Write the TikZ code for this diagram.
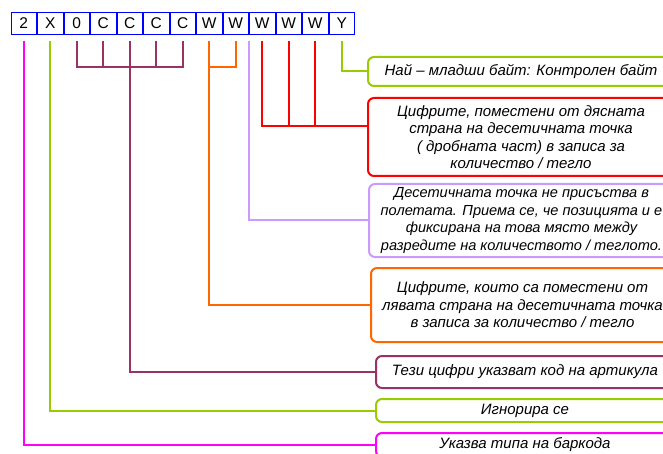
\documentclass[tikz,border=0pt]{standalone}
\usepackage{fontspec}
\setmainfont{Liberation Sans}
\usetikzlibrary{positioning}
\definecolor{kindcol}{HTML}{FF00FF}
\definecolor{lime}{HTML}{99CC00}
\definecolor{plum}{HTML}{993366}
\definecolor{orng}{HTML}{FF6600}
\definecolor{lilac}{HTML}{CC99FF}

\begin{document}
\begin{tikzpicture}[x=1pt,y=-1pt,line width=2pt,node distance=0pt,digit/.style={draw=blue,line width=1pt,minimum width=25.5pt,minimum height=21.3pt,inner sep=0pt,font=\fontsize{15.5}{15.5}\selectfont},note/.style={draw,rounded corners=6pt,anchor=west,align=center,inner sep=0pt,font=\fontsize{15}{17.5}\selectfont\itshape}]
                        \useasboundingbox (0,0) rectangle (663,454);
                        \clip (0,0) rectangle (663,454);
                        \node[digit] (1) at (23.8,23.5) {2};
                        \node[digit] (2) [right=of 1] {X};
                        \node[digit] (3) [right=of 2] {0};
                        \node[digit] (4) [right=of 3] {C};
                        \node[digit] (5) [right=of 4] {C};
                        \node[digit] (6) [right=of 5] {C};
                        \node[digit] (7) [right=of 6] {C};
                        \node[digit] (8) [right=of 7] {W};
                        \node[digit] (9) [right=of 8] {W};
                        \node[digit] (10) [right=of 9] {W};
                        \node[digit] (11) [right=of 10] {W};
                        \node[digit] (12) [right=of 11] {W};
                        \node[digit] (13) [right=of 12] {Y};

                        \node[note,draw=lime,minimum width=306pt,minimum height=29pt] (ctrl) at (367,71.5) {Най – младши байт: Контролен байт};
                        \node[note,draw=red,minimum width=306pt,minimum height=78pt] (frac) at (367,137) {Цифрите, поместени от дясната\\страна на десетичната точка\\( дробната част) в записа за\\количество / тегло};
                        \node[note,draw=lilac,minimum width=305pt,minimum height=73pt,font=\fontsize{14.6}{17.5}\selectfont\itshape] (dot) at (368,220.5) {Десетичната точка не присъства в\\полетата. Приема се, че позицията и е\\фиксирана на това място между\\разредите на количеството / теглото.};
                        \node[note,draw=orng,minimum width=303pt,minimum height=74pt] (whole) at (370,305) {Цифрите, които са поместени от\\лявата страна на десетичната точка\\в записа за количество / тегло};
                        \node[note,draw=plum,minimum width=298pt,minimum height=32pt] (item) at (375,372) {Тези цифри указват код на артикула};
                        \node[note,draw=lime,minimum width=298pt,minimum height=23pt] (skip) at (375,410.5) {Игнорира се};
                        \node[note,draw=kindcol,minimum width=298pt,minimum height=24pt] (kind) at (375,445) {Указва типа на баркода};

                        % code of the article
                        \draw[plum] ([yshift=-6pt]3.south) -- ([yshift=-32pt]3.south) -- ([yshift=-32pt]7.south) -- ([yshift=-6pt]7.south);
                        \foreach \n in {4,5,6}
                            \draw[plum] ([yshift=-6pt]\n.south) -- ([yshift=-32pt]\n.south);
                        \draw[plum] ([yshift=-32pt]5.south) |- (item.west);

                        % whole part
                        \draw[orng] ([yshift=-6pt]8.south) -- ([yshift=-32pt]8.south) -- ([yshift=-32pt]9.south) -- ([yshift=-6pt]9.south);
                        \draw[orng] ([yshift=-32pt]8.south) |- (whole.west);

                        % decimal point
                        \draw[lilac] ([yshift=-6pt]9.south east) |- (dot.west);

                        % fraction
                        \coordinate (bar) at ([yshift=11pt]frac.west);
                        \draw[red] ([yshift=-6pt]10.south) |- (bar);
                        \foreach \n in {11,12}
                            \draw[red] ([yshift=-6pt]\n.south) -- (\n.south |- bar);

                        \draw[lime] ([yshift=-6pt]13.south) |- (ctrl.west);
                        \draw[lime] ([yshift=-6pt]2.south) |- (skip.west);
                        \draw[kindcol] ([yshift=-6pt]1.south) |- (kind.west);
                    \end{tikzpicture}
\end{document}
